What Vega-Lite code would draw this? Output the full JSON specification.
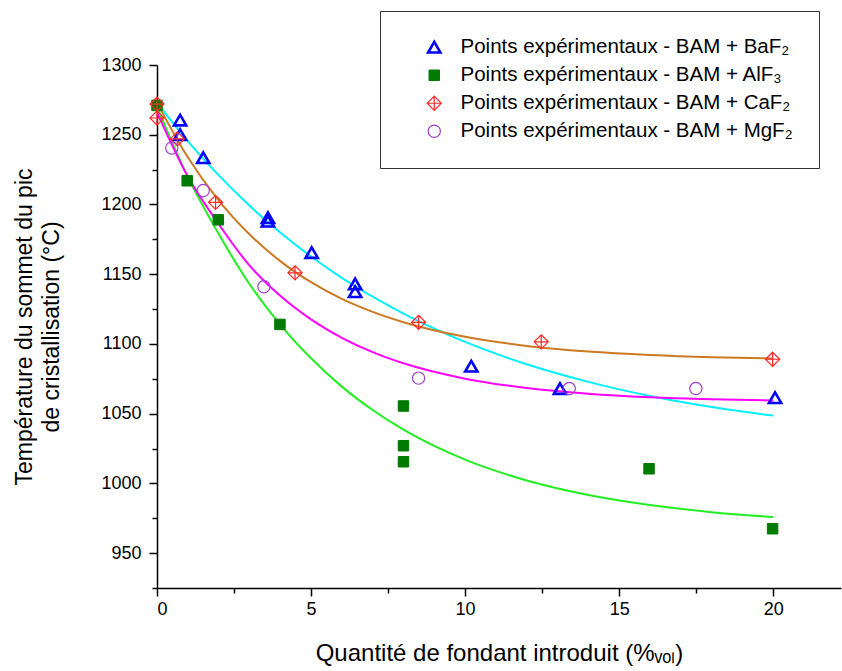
{
  "$schema": "https://vega.github.io/schema/vega-lite/v6.json",
  "width": 684,
  "height": 523,
  "autosize": "none",
  "padding": {"left": 157, "top": 65, "right": 1, "bottom": 83},
  "background": "white",
  "config": {
    "view": {"stroke": null},
    "font": "Liberation Sans",
    "axis": {
      "grid": false,
      "domainColor": "black",
      "domainWidth": 1.5,
      "tickColor": "black",
      "tickWidth": 1.5,
      "labelColor": "black",
      "labelFont": "Liberation Sans",
      "labelFontSize": 18,
      "titleColor": "black",
      "titleFont": "Liberation Sans",
      "titleFontWeight": "normal",
      "titleFontSize": 23
    }
  },
  "datasets": {
    "points": [
      {"serie": "Points expérimentaux - BAM + AlF₃", "x": 0, "T": 1271},
      {"serie": "Points expérimentaux - BAM + AlF₃", "x": 0.98, "T": 1217},
      {"serie": "Points expérimentaux - BAM + AlF₃", "x": 1.99, "T": 1189},
      {"serie": "Points expérimentaux - BAM + AlF₃", "x": 3.99, "T": 1114},
      {"serie": "Points expérimentaux - BAM + AlF₃", "x": 8.0, "T": 1055.5},
      {"serie": "Points expérimentaux - BAM + AlF₃", "x": 8.0, "T": 1027},
      {"serie": "Points expérimentaux - BAM + AlF₃", "x": 8.0, "T": 1015.5},
      {"serie": "Points expérimentaux - BAM + AlF₃", "x": 15.97, "T": 1010.5},
      {"serie": "Points expérimentaux - BAM + AlF₃", "x": 19.98, "T": 967.5},
      {"serie": "Points expérimentaux - BAM + BaF₂", "x": 0.75, "T": 1260.5},
      {"serie": "Points expérimentaux - BAM + BaF₂", "x": 0.75, "T": 1250},
      {"serie": "Points expérimentaux - BAM + BaF₂", "x": 1.5, "T": 1233.5},
      {"serie": "Points expérimentaux - BAM + BaF₂", "x": 3.6, "T": 1190.5},
      {"serie": "Points expérimentaux - BAM + BaF₂", "x": 3.6, "T": 1188},
      {"serie": "Points expérimentaux - BAM + BaF₂", "x": 5.02, "T": 1165.5},
      {"serie": "Points expérimentaux - BAM + BaF₂", "x": 6.43, "T": 1143},
      {"serie": "Points expérimentaux - BAM + BaF₂", "x": 6.43, "T": 1137.5},
      {"serie": "Points expérimentaux - BAM + BaF₂", "x": 10.2, "T": 1084},
      {"serie": "Points expérimentaux - BAM + BaF₂", "x": 13.08, "T": 1068},
      {"serie": "Points expérimentaux - BAM + BaF₂", "x": 20.06, "T": 1061.5},
      {"serie": "Points expérimentaux - BAM + CaF₂", "x": 0, "T": 1272},
      {"serie": "Points expérimentaux - BAM + CaF₂", "x": 0, "T": 1262},
      {"serie": "Points expérimentaux - BAM + CaF₂", "x": 0.66, "T": 1247},
      {"serie": "Points expérimentaux - BAM + CaF₂", "x": 1.9, "T": 1201.5},
      {"serie": "Points expérimentaux - BAM + CaF₂", "x": 4.48, "T": 1151},
      {"serie": "Points expérimentaux - BAM + CaF₂", "x": 8.49, "T": 1115.5},
      {"serie": "Points expérimentaux - BAM + CaF₂", "x": 12.47, "T": 1101.5},
      {"serie": "Points expérimentaux - BAM + CaF₂", "x": 19.98, "T": 1089},
      {"serie": "Points expérimentaux - BAM + MgF₂", "x": 0.48, "T": 1240.5},
      {"serie": "Points expérimentaux - BAM + MgF₂", "x": 1.5, "T": 1210},
      {"serie": "Points expérimentaux - BAM + MgF₂", "x": 3.47, "T": 1141},
      {"serie": "Points expérimentaux - BAM + MgF₂", "x": 8.49, "T": 1075.5},
      {"serie": "Points expérimentaux - BAM + MgF₂", "x": 13.38, "T": 1068},
      {"serie": "Points expérimentaux - BAM + MgF₂", "x": 17.49, "T": 1068}
    ],
    "fits": [
      {"fit": "BaF2", "x": 0, "T": 1273},
      {"fit": "BaF2", "x": 1, "T": 1245.4},
      {"fit": "BaF2", "x": 2, "T": 1221},
      {"fit": "BaF2", "x": 3, "T": 1199.2},
      {"fit": "BaF2", "x": 4, "T": 1179.9},
      {"fit": "BaF2", "x": 5, "T": 1162.7},
      {"fit": "BaF2", "x": 6, "T": 1147.4},
      {"fit": "BaF2", "x": 7, "T": 1133.9},
      {"fit": "BaF2", "x": 8, "T": 1121.8},
      {"fit": "BaF2", "x": 10, "T": 1101.5},
      {"fit": "BaF2", "x": 12, "T": 1085.4},
      {"fit": "BaF2", "x": 14, "T": 1072.8},
      {"fit": "BaF2", "x": 16, "T": 1062.7},
      {"fit": "BaF2", "x": 18, "T": 1054.8},
      {"fit": "BaF2", "x": 20, "T": 1048.6},
      {"fit": "AlF3", "x": 0, "T": 1270},
      {"fit": "AlF3", "x": 1, "T": 1219.8},
      {"fit": "AlF3", "x": 2, "T": 1179},
      {"fit": "AlF3", "x": 3, "T": 1143},
      {"fit": "AlF3", "x": 4, "T": 1113.9},
      {"fit": "AlF3", "x": 5, "T": 1089.7},
      {"fit": "AlF3", "x": 6, "T": 1069.4},
      {"fit": "AlF3", "x": 7, "T": 1052.6},
      {"fit": "AlF3", "x": 8, "T": 1038.5},
      {"fit": "AlF3", "x": 10, "T": 1017},
      {"fit": "AlF3", "x": 12, "T": 1002.1},
      {"fit": "AlF3", "x": 14, "T": 991.7},
      {"fit": "AlF3", "x": 16, "T": 984.5},
      {"fit": "AlF3", "x": 18, "T": 979.4},
      {"fit": "AlF3", "x": 20, "T": 975.9},
      {"fit": "CaF2", "x": 0, "T": 1273},
      {"fit": "CaF2", "x": 1, "T": 1233.8},
      {"fit": "CaF2", "x": 2, "T": 1202.9},
      {"fit": "CaF2", "x": 3, "T": 1178.6},
      {"fit": "CaF2", "x": 4, "T": 1159.4},
      {"fit": "CaF2", "x": 5, "T": 1144.3},
      {"fit": "CaF2", "x": 6, "T": 1132.3},
      {"fit": "CaF2", "x": 7, "T": 1123},
      {"fit": "CaF2", "x": 8, "T": 1115.6},
      {"fit": "CaF2", "x": 10, "T": 1105.1},
      {"fit": "CaF2", "x": 12, "T": 1098.6},
      {"fit": "CaF2", "x": 14, "T": 1094.6},
      {"fit": "CaF2", "x": 16, "T": 1092.1},
      {"fit": "CaF2", "x": 18, "T": 1090.5},
      {"fit": "CaF2", "x": 20, "T": 1089.6},
      {"fit": "MgF2", "x": 0, "T": 1266},
      {"fit": "MgF2", "x": 1, "T": 1220},
      {"fit": "MgF2", "x": 2, "T": 1186},
      {"fit": "MgF2", "x": 3, "T": 1156.3},
      {"fit": "MgF2", "x": 4, "T": 1134.5},
      {"fit": "MgF2", "x": 5, "T": 1117.6},
      {"fit": "MgF2", "x": 6, "T": 1104.4},
      {"fit": "MgF2", "x": 7, "T": 1094.1},
      {"fit": "MgF2", "x": 8, "T": 1086.1},
      {"fit": "MgF2", "x": 10, "T": 1075.1},
      {"fit": "MgF2", "x": 12, "T": 1068.4},
      {"fit": "MgF2", "x": 14, "T": 1064.3},
      {"fit": "MgF2", "x": 16, "T": 1061.8},
      {"fit": "MgF2", "x": 18, "T": 1060.3},
      {"fit": "MgF2", "x": 20, "T": 1059.4}
    ]
  },
  "encoding": {
    "x": {
      "field": "x",
      "type": "quantitative",
      "scale": {"domain": [0, 22.2], "nice": false, "zero": false},
      "axis": {
        "values": [0, 2.5, 5, 7.5, 10, 12.5, 15, 17.5, 20],
        "labelExpr": "datum.value % 5 === 0 ? datum.label : ''",
        "tickSize": {"condition": {"test": "datum.value % 5 === 0", "value": 8}, "value": 5},
        "labelPadding": 4,
        "title": "Quantité de fondant introduit (%ᵥₒₗ)",
        "titleFontSize": 24,
        "titlePadding": 23
      }
    },
    "y": {
      "field": "T",
      "type": "quantitative",
      "scale": {"domain": [925, 1300], "nice": false, "zero": false},
      "axis": {
        "values": [925, 950, 975, 1000, 1025, 1050, 1075, 1100, 1125, 1150, 1175, 1200, 1225, 1250, 1275, 1300],
        "format": "d",
        "labelExpr": "datum.value % 50 === 0 ? datum.label : ''",
        "tickSize": {"condition": {"test": "datum.value % 50 === 0", "value": 8}, "value": 5},
        "labelPadding": 8,
        "title": ["Température du sommet du pic", "de cristallisation (°C)"],
        "titleLineHeight": 27,
        "titlePadding": 37
      }
    }
  },
  "layer": [
    {
      "data": {"name": "fits"},
      "mark": {"type": "line", "strokeWidth": 2, "interpolate": "monotone", "clip": true},
      "encoding": {
        "color": {
          "field": "fit",
          "type": "nominal",
          "scale": {"domain": ["BaF2", "AlF3", "CaF2", "MgF2"], "range": ["#00F0FF", "#22EE22", "#CC7A22", "#FF00FF"]},
          "legend": null
        }
      }
    },
    {
      "data": {"name": "points"},
      "mark": {"type": "point", "opacity": 1, "clip": false},
      "encoding": {
        "stroke": {
          "field": "serie",
          "type": "nominal",
          "scale": {
            "domain": ["Points expérimentaux - BAM + BaF₂", "Points expérimentaux - BAM + AlF₃", "Points expérimentaux - BAM + CaF₂", "Points expérimentaux - BAM + MgF₂"],
            "range": ["#0000FF", "#007A00", "#FF2A2A", "#A040D0"]
          },
          "legend": {
            "orient": "none",
            "legendX": 223,
            "legendY": -54,
            "title": null,
            "padding": 26,
            "strokeColor": "#333333",
            "fillColor": "white",
            "labelFontSize": 20.5,
            "labelColor": "black",
            "labelLimit": 600,
            "symbolOffset": 18,
            "labelOffset": 16,
            "rowPadding": 7
          }
        },
        "fill": {
          "field": "serie",
          "type": "nominal",
          "scale": {
            "domain": ["Points expérimentaux - BAM + BaF₂", "Points expérimentaux - BAM + AlF₃", "Points expérimentaux - BAM + CaF₂", "Points expérimentaux - BAM + MgF₂"],
            "range": ["rgba(0,0,0,0)", "#007A00", "rgba(0,0,0,0)", "rgba(0,0,0,0)"]
          }
        },
        "shape": {
          "field": "serie",
          "type": "nominal",
          "scale": {
            "domain": ["Points expérimentaux - BAM + BaF₂", "Points expérimentaux - BAM + AlF₃", "Points expérimentaux - BAM + CaF₂", "Points expérimentaux - BAM + MgF₂"],
            "range": ["triangle-up", "square", "M0,-1L1,0L0,1L-1,0Z M0,-1L0,1 M-1,0L1,0", "circle"]
          }
        },
        "size": {
          "field": "serie",
          "type": "nominal",
          "scale": {
            "type": "ordinal",
            "domain": ["Points expérimentaux - BAM + BaF₂", "Points expérimentaux - BAM + AlF₃", "Points expérimentaux - BAM + CaF₂", "Points expérimentaux - BAM + MgF₂"],
            "range": [150, 110, 200, 150]
          }
        },
        "strokeWidth": {
          "field": "serie",
          "type": "nominal",
          "scale": {
            "type": "ordinal",
            "domain": ["Points expérimentaux - BAM + BaF₂", "Points expérimentaux - BAM + AlF₃", "Points expérimentaux - BAM + CaF₂", "Points expérimentaux - BAM + MgF₂"],
            "range": [2.6, 1, 1.2, 1.2]
          }
        }
      }
    }
  ]
}
